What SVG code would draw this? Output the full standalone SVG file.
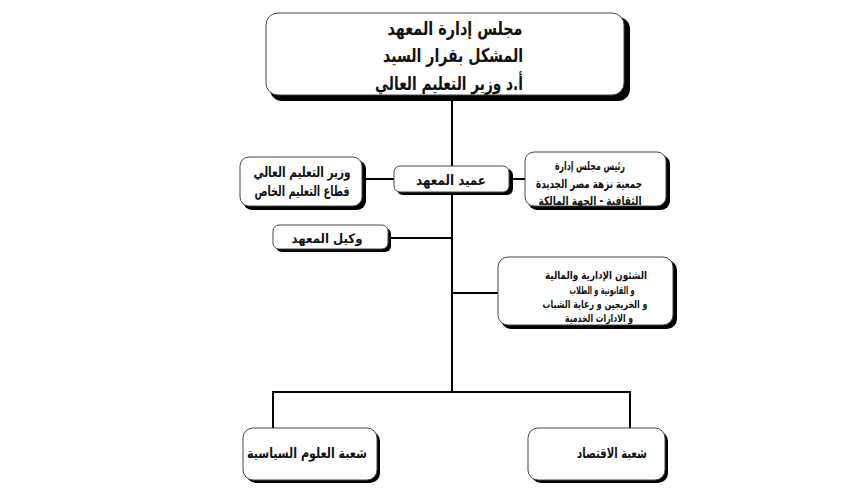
<svg xmlns="http://www.w3.org/2000/svg" width="850" height="500" viewBox="0 0 850 500">
<style>
.sh{fill:#000;}
.bx{fill:#fff;stroke:#444;stroke-width:1;}
.ln{stroke:#000;stroke-width:2;fill:none;}
text{font-family:"DejaVu Sans",sans-serif;font-weight:bold;fill:#111;text-anchor:middle;dominant-baseline:central;}
</style>
<rect width="850" height="500" fill="#fff"/>
<g id="connectors">
<line class="ln" x1="452" y1="97" x2="452" y2="392"/>
<line class="ln" x1="364" y1="179" x2="395" y2="179"/>
<line class="ln" x1="511" y1="179" x2="526" y2="179"/>
<line class="ln" x1="390" y1="238" x2="452" y2="238"/>
<line class="ln" x1="452" y1="293" x2="499" y2="293"/>
<polyline class="ln" points="273,428 273,392 630,392 630,428"/>
</g>
<g id="board">
<rect class="sh" x="270" y="17" width="360" height="84" rx="12"/>
<rect class="bx" x="266" y="13" width="358" height="82" rx="12"/>
<text x="455" y="28" font-size="19" textLength="135" lengthAdjust="spacingAndGlyphs">مجلس إدارة المعهد</text>
<text x="453" y="55" font-size="19" textLength="140" lengthAdjust="spacingAndGlyphs">المشكل بقرار السيد</text>
<text x="449" y="83" font-size="19" textLength="148" lengthAdjust="spacingAndGlyphs">أ.د وزير التعليم العالي</text>
</g>
<g id="dean">
<rect class="sh" x="397" y="169" width="116" height="26" rx="6"/>
<rect class="bx" x="394" y="166" width="115" height="26" rx="6"/>
<text x="451" y="180" font-size="14" textLength="70" lengthAdjust="spacingAndGlyphs">عميد المعهد</text>
</g>
<g id="minister">
<rect class="sh" x="243" y="160" width="123" height="50" rx="9"/>
<rect class="bx" x="240" y="157" width="122" height="49" rx="9"/>
<text x="302" y="172" font-size="14" textLength="97" lengthAdjust="spacingAndGlyphs">وزير التعليم العالي</text>
<text x="302" y="191" font-size="14" textLength="95" lengthAdjust="spacingAndGlyphs">قطاع التعليم الخاص</text>
</g>
<g id="owner">
<rect class="sh" x="528" y="155" width="142" height="55" rx="9"/>
<rect class="bx" x="525" y="152" width="141" height="54" rx="9"/>
<text x="590" y="166" font-size="12" textLength="70" lengthAdjust="spacingAndGlyphs">رئيس مجلس إدارة</text>
<text x="589" y="184" font-size="12" textLength="106" lengthAdjust="spacingAndGlyphs">جمعية نزهة مصر الجديدة</text>
<text x="590" y="201" font-size="12" textLength="103" lengthAdjust="spacingAndGlyphs">الثقافية - الجهة المالكة</text>
</g>
<g id="vice">
<rect class="sh" x="276" y="228" width="115" height="24" rx="6"/>
<rect class="bx" x="273" y="225" width="115" height="24" rx="6"/>
<text x="327" y="238" font-size="13" textLength="71" lengthAdjust="spacingAndGlyphs">وكيل المعهد</text>
</g>
<g id="affairs">
<rect class="sh" x="501" y="260" width="176" height="69" rx="10"/>
<rect class="bx" x="498" y="257" width="175" height="68" rx="10"/>
<text x="596" y="275" font-size="11" textLength="102" lengthAdjust="spacingAndGlyphs">الشئون الإدارية والمالية</text>
<text x="602" y="290" font-size="11" textLength="65" lengthAdjust="spacingAndGlyphs">و القانونية و الطلاب</text>
<text x="595" y="304" font-size="11" textLength="105" lengthAdjust="spacingAndGlyphs">و الخريجين و رعاية الشباب</text>
<text x="599" y="318" font-size="11" textLength="68" lengthAdjust="spacingAndGlyphs">و الادارات الخدمية</text>
</g>
<g id="politics">
<rect class="sh" x="246" y="431" width="134" height="52" rx="10"/>
<rect class="bx" x="243" y="428" width="134" height="52" rx="10"/>
<text x="307" y="453" font-size="14" textLength="120" lengthAdjust="spacingAndGlyphs">شعبة العلوم السياسية</text>
</g>
<g id="economics">
<rect class="sh" x="531" y="431" width="137" height="52" rx="10"/>
<rect class="bx" x="528" y="428" width="137" height="52" rx="10"/>
<text x="612" y="453" font-size="14" textLength="70" lengthAdjust="spacingAndGlyphs">شعبة الاقتصاد</text>
</g>
</svg>
